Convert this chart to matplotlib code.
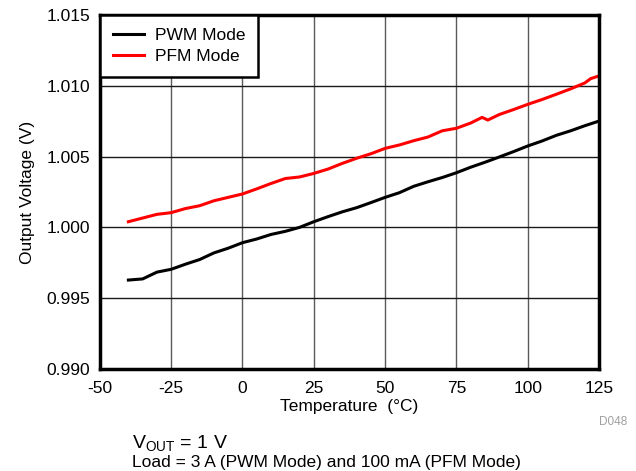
import matplotlib.pyplot as plt

plt.rcParams['font.family'] = ['Liberation Sans', 'DejaVu Sans']
plt.rcParams['axes.unicode_minus'] = False

temp_pwm = [-40, -35, -30, -25, -20, -15, -10, -5, 0, 5, 10, 15, 20, 25, 30, 35, 40,
            45, 50, 55, 60, 65, 70, 75, 80, 85, 90, 95, 100, 105, 110, 115, 120, 125]
vout_pwm = [0.99628, 0.99636, 0.99684, 0.99704, 0.99740, 0.99773, 0.99820, 0.99853,
            0.99892, 0.99918, 0.99950, 0.99972, 1.00000, 1.00040, 1.00076, 1.00110,
            1.00139, 1.00175, 1.00212, 1.00245, 1.00290, 1.00322, 1.00352, 1.00386,
            1.00425, 1.00460, 1.00497, 1.00535, 1.00575, 1.00610, 1.00650, 1.00682,
            1.00718, 1.00751]

temp_pfm = [-40, -35, -30, -25, -20, -15, -10, -5, 0, 5, 10, 15, 20, 25, 30, 35, 40,
            45, 50, 55, 60, 65, 70, 75, 80, 84, 86, 90, 95, 100, 105, 110, 115, 120,
            122, 125]
vout_pfm = [1.00040, 1.00066, 1.00092, 1.00104, 1.00133, 1.00153, 1.00188, 1.00212,
            1.00236, 1.00272, 1.00310, 1.00345, 1.00356, 1.00381, 1.00412, 1.00452,
            1.00488, 1.00520, 1.00558, 1.00582, 1.00612, 1.00638, 1.00682, 1.00700,
            1.00737, 1.00777, 1.00758, 1.00797, 1.00832, 1.00869, 1.00903, 1.00940,
            1.00978, 1.01020, 1.01050, 1.01070]

x_ticks = [-50, -25, 0, 25, 50, 75, 100, 125]
y_ticks = [0.990, 0.995, 1.000, 1.005, 1.010, 1.015]

fig = plt.figure(figsize=(6.36, 4.71), dpi=100)
ax = fig.add_axes([0.157, 0.2166, 0.785, 0.7516])

ax.plot(temp_pwm, vout_pwm, color='black', lw=2.2, label='PWM Mode')
ax.plot(temp_pfm, vout_pfm, color='#ff0000', lw=2.2, label='PFM Mode')

ax.set_xlim(-50, 125)
ax.set_ylim(0.990, 1.015)
ax.set_xticks(x_ticks)
ax.set_yticks(y_ticks)
ax.set_yticklabels(['%.3f' % v for v in y_ticks])
ax.tick_params(length=0, labelsize=12.5)
ax.tick_params(axis='x', pad=9)
ax.tick_params(axis='y', pad=7)
ax.xaxis.grid(True, color='#5a5a5a', lw=1)
ax.yaxis.grid(True, color='#1a1a1a', lw=1)
for s in ax.spines.values():
    s.set_linewidth(2.5)

ax.set_xlabel('Temperature  (\u00b0C)', fontsize=12.5, labelpad=2)
ax.set_ylabel('Output Voltage (V)', fontsize=12.5, labelpad=8)

leg = ax.legend(loc='upper left', fontsize=12.5, borderaxespad=0, fancybox=False,
                framealpha=1, edgecolor='black', handlelength=1.8, borderpad=0.76,
                labelspacing=0.33, handletextpad=0.6)
leg.get_frame().set_linewidth(1.8)

fig.text(0.986, 0.098, 'D048', fontsize=8.5, color='#a0a0a0', ha='right')
fig.text(0.207, 0.047, r'V$_{\mathregular{OUT}}$ = 1 V', fontsize=14)
fig.text(0.207, 0.002, 'Load = 3 A (PWM Mode) and 100 mA (PFM Mode)', fontsize=12.5,
         va='bottom')

fig.savefig('out.png', dpi=100)
